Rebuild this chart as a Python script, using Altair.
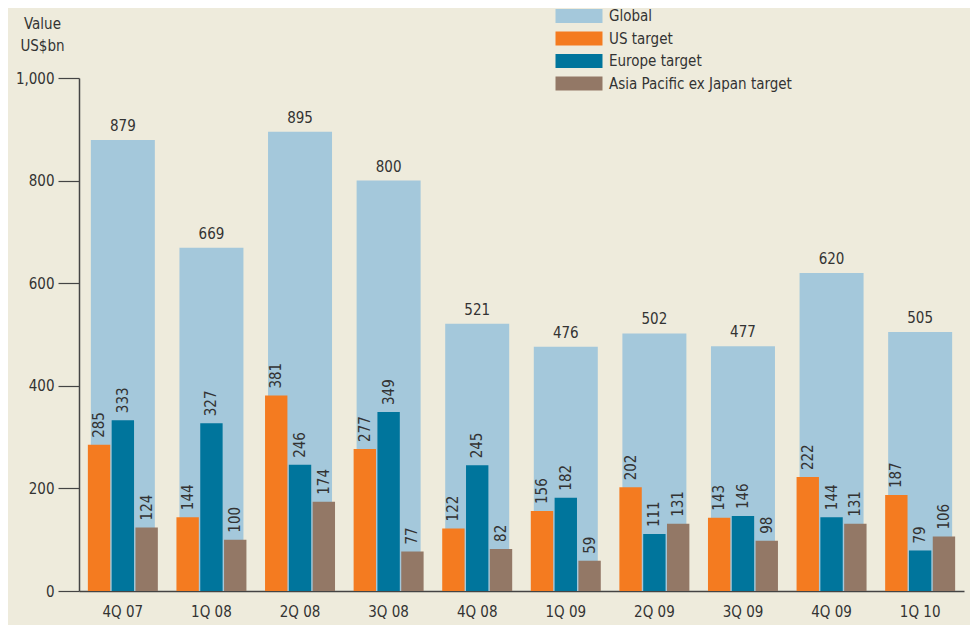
import altair as alt
import pandas as pd

quarters = ["4Q 07", "1Q 08", "2Q 08", "3Q 08", "4Q 08", "1Q 09", "2Q 09", "3Q 09", "4Q 09", "1Q 10"]
global_vals = [879, 669, 895, 800, 521, 476, 502, 477, 620, 505]
us_vals = [285, 144, 381, 277, 122, 156, 202, 143, 222, 187]
europe_vals = [333, 327, 246, 349, 245, 182, 111, 146, 144, 79]
asia_vals = [124, 100, 174, 77, 82, 59, 131, 98, 131, 106]

series_names = ["Global", "US target", "Europe target", "Asia Pacific ex Japan target"]
series_colors = ["#A4C8DB", "#F47B20", "#00759C", "#937866"]

FONT = "DejaVu Sans Condensed, Liberation Sans Narrow, Open Sans, sans-serif"
TXT = "#333333"

rows = []
for i, q in enumerate(quarters):
    rows.append({"quarter": q, "series": "Global", "value": global_vals[i]})
    rows.append({"quarter": q, "series": "US target", "value": us_vals[i]})
    rows.append({"quarter": q, "series": "Europe target", "value": europe_vals[i]})
    rows.append({"quarter": q, "series": "Asia Pacific ex Japan target", "value": asia_vals[i]})
df = pd.DataFrame(rows)

xscale = alt.Scale(domain=quarters, paddingInner=0.21, paddingOuter=0.1)
xenc = alt.X("quarter:N", scale=xscale, sort=quarters,
             axis=alt.Axis(title=None, labelAngle=0, ticks=False, labelPadding=13,
                           labelFontSize=15, labelFont=FONT, labelColor=TXT,
                           domainColor="#444444", domainWidth=1.5))
yenc = alt.Y("value:Q", scale=alt.Scale(domain=[0, 1000], nice=False),
             axis=alt.Axis(title=["Value", "US$bn"], titleAngle=0, titleAlign="center",
                           titleBaseline="alphabetic", titleX=-37, titleY=-50,
                           titleLineHeight=22, titleFontSize=15, titleFontWeight="normal",
                           titleFont=FONT, titleColor=TXT,
                           values=[0, 200, 400, 600, 800, 1000], format=",d",
                           tickSize=21, tickColor="#444444", domainColor="#444444",
                           domainWidth=1.5, tickWidth=1.2,
                           labelFontSize=15, labelFont=FONT, labelColor=TXT,
                           labelPadding=4, grid=False))
color = alt.Color("series:N",
                  scale=alt.Scale(domain=series_names, range=series_colors),
                  legend=alt.Legend(title=None, orient="none", legendX=486, legendY=-76,
                                    symbolType="M-1.7,-0.5L1.7,-0.5L1.7,0.5L-1.7,0.5Z",
                                    symbolSize=764, symbolStrokeWidth=0, symbolOpacity=1,
                                    labelFontSize=15, labelFont=FONT, labelColor=TXT,
                                    labelOffset=16, rowPadding=0.5, labelLimit=400,
                                    padding=0))

global_df = df[df.series == "Global"]
sub_df = df[df.series != "Global"]
sub_order = ["US target", "Europe target", "Asia Pacific ex Japan target"]

global_bars = alt.Chart(global_df).mark_bar(width=64).encode(x=xenc, y=yenc, color=color)
global_text = alt.Chart(global_df).mark_text(baseline="bottom", dy=-6, fontSize=15,
                                             font=FONT, color=TXT).encode(
    x=alt.X("quarter:N", scale=xscale, sort=quarters), y="value:Q", text="value:Q")

xoff = alt.XOffset("series:N", sort=sub_order,
                   scale=alt.Scale(domain=sub_order, paddingInner=0.06, paddingOuter=0))
sub_bars = alt.Chart(sub_df).mark_bar().encode(x=alt.X("quarter:N", scale=xscale, sort=quarters),
                                               xOffset=xoff, y="value:Q", color=color)
sub_text = alt.Chart(sub_df).mark_text(angle=270, align="left", baseline="middle", dx=7,
                                       fontSize=15, font=FONT, color=TXT).encode(
    x=alt.X("quarter:N", scale=xscale, sort=quarters), xOffset=xoff,
    y="value:Q", text="value:Q")

chart = alt.layer(global_bars, global_text, sub_bars, sub_text).properties(
    width=885, height=513,
    padding={"left": 71, "top": 70, "right": 6, "bottom": 34},
    autosize=alt.AutoSizeParams(type="none"),
    background="#EEEBDC",
).configure_view(stroke=None)

chart.save("out.html", embed_options={"renderer": "svg", "actions": False})
